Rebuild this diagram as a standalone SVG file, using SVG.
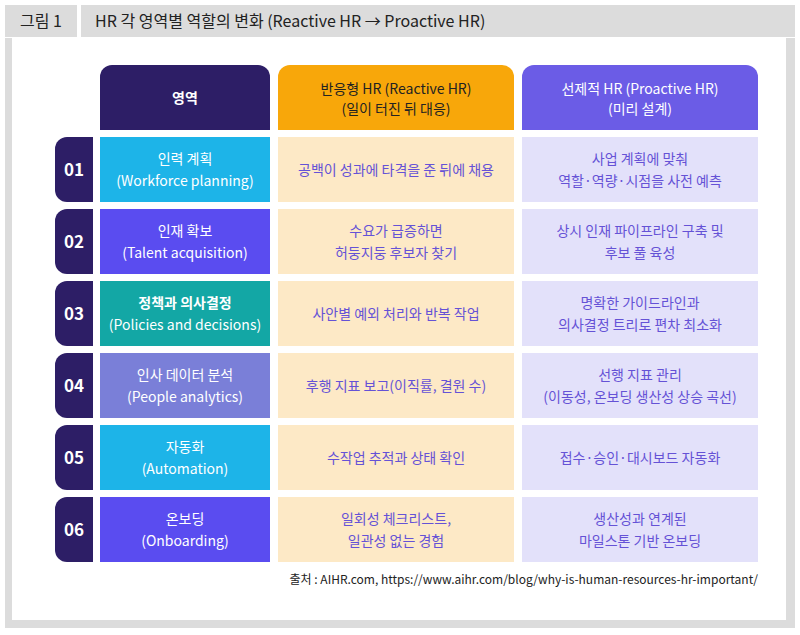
<svg xmlns="http://www.w3.org/2000/svg" width="800" height="635" viewBox="0 0 800 635">
<style>
text{font-family:"Noto Sans CJK KR","Noto Sans",sans-serif;text-anchor:middle}
.w{fill:#fff;font-size:14px}
.h{fill:#fff;font-size:14px;font-weight:bold}
.c{fill:#6552d6;font-size:14px}
.n{fill:#fff;font-size:17px;font-weight:bold}
.tab{fill:#2d1e66}
.r{fill:#fde9c6}
.p{fill:#e3e1fa}
</style>
<rect x="0" y="0" width="800" height="635" fill="#fff"/>
<rect x="5" y="38" width="790" height="590" fill="#dcdcdc"/>
<rect x="12" y="38" width="774" height="582" fill="#fff"/>
<rect x="5" y="5" width="72" height="32" fill="#dcdcdc"/>
<rect x="81" y="5" width="714" height="32" fill="#dcdcdc"/>
<text x="41" y="27" style="text-anchor:middle;font-size:16px;fill:#222">그림 1</text>
<text x="95" y="27" style="text-anchor:start;font-size:16px;fill:#222">HR 각 영역별 역할의 변화 (Reactive HR → Proactive HR)</text>
<g id="header">
<path d="M100 130V77a12 12 0 0 1 12-12h146a12 12 0 0 1 12 12v53z" fill="#2d1e66"/>
<text class="h" x="185" y="103">영역</text>
<path d="M278 130V77a12 12 0 0 1 12-12h212a12 12 0 0 1 12 12v53z" fill="#f8a70a"/>
<text x="396" y="94" style="fill:#222;font-size:14px">반응형 HR (Reactive HR)</text>
<text x="396" y="114" style="fill:#222;font-size:14px">(일이 터진 뒤 대응)</text>
<path d="M522 130V77a12 12 0 0 1 12-12h212a12 12 0 0 1 12 12v53z" fill="#6b5ce6"/>
<text class="w" x="640" y="94">선제적 HR (Proactive HR)</text>
<text class="w" x="640" y="114">(미리 설계)</text>
</g>
<g id="row1">
<path class="tab" d="M93 137v65H67a12 12 0 0 1-12-12V149a12 12 0 0 1 12-12z"/><text class="n" x="74" y="176">01</text>
<rect x="100" y="137" width="170" height="65" fill="#1db4e8"/>
<text class="w" x="185" y="164">인력 계획</text><text class="w" x="185" y="186">(Workforce planning)</text>
<rect class="r" x="278" y="137" width="236" height="65"/><text class="c" x="396" y="175">공백이 성과에 타격을 준 뒤에 채용</text>
<rect class="p" x="522" y="137" width="236" height="65"/><text class="c" x="640" y="164">사업 계획에 맞춰</text><text class="c" x="640" y="186">역할·역량·시점을 사전 예측</text>
</g>
<g id="row2">
<path class="tab" d="M93 209v65H67a12 12 0 0 1-12-12V221a12 12 0 0 1 12-12z"/><text class="n" x="74" y="248">02</text>
<rect x="100" y="209" width="170" height="65" fill="#5a4cf0"/>
<text class="w" x="185" y="236">인재 확보</text><text class="w" x="185" y="258">(Talent acquisition)</text>
<rect class="r" x="278" y="209" width="236" height="65"/><text class="c" x="396" y="236">수요가 급증하면</text><text class="c" x="396" y="258">허둥지둥 후보자 찾기</text>
<rect class="p" x="522" y="209" width="236" height="65"/><text class="c" x="640" y="236">상시 인재 파이프라인 구축 및</text><text class="c" x="640" y="258">후보 풀 육성</text>
</g>
<g id="row3">
<path class="tab" d="M93 281v65H67a12 12 0 0 1-12-12V293a12 12 0 0 1 12-12z"/><text class="n" x="74" y="320">03</text>
<rect x="100" y="281" width="170" height="65" fill="#13a7a5"/>
<text class="h" x="185" y="308">정책과 의사결정</text><text class="w" x="185" y="330">(Policies and decisions)</text>
<rect class="r" x="278" y="281" width="236" height="65"/><text class="c" x="396" y="319">사안별 예외 처리와 반복 작업</text>
<rect class="p" x="522" y="281" width="236" height="65"/><text class="c" x="640" y="308">명확한 가이드라인과</text><text class="c" x="640" y="330">의사결정 트리로 편차 최소화</text>
</g>
<g id="row4">
<path class="tab" d="M93 353v65H67a12 12 0 0 1-12-12V365a12 12 0 0 1 12-12z"/><text class="n" x="74" y="392">04</text>
<rect x="100" y="353" width="170" height="65" fill="#7a7fd8"/>
<text class="w" x="185" y="380">인사 데이터 분석</text><text class="w" x="185" y="402">(People analytics)</text>
<rect class="r" x="278" y="353" width="236" height="65"/><text class="c" x="396" y="391">후행 지표 보고(이직률, 결원 수)</text>
<rect class="p" x="522" y="353" width="236" height="65"/><text class="c" x="640" y="380">선행 지표 관리</text><text class="c" x="640" y="402">(이동성, 온보딩 생산성 상승 곡선)</text>
</g>
<g id="row5">
<path class="tab" d="M93 425v65H67a12 12 0 0 1-12-12V437a12 12 0 0 1 12-12z"/><text class="n" x="74" y="464">05</text>
<rect x="100" y="425" width="170" height="65" fill="#1db4e8"/>
<text class="w" x="185" y="452">자동화</text><text class="w" x="185" y="474">(Automation)</text>
<rect class="r" x="278" y="425" width="236" height="65"/><text class="c" x="396" y="463">수작업 추적과 상태 확인</text>
<rect class="p" x="522" y="425" width="236" height="65"/><text class="c" x="640" y="463">접수·승인·대시보드 자동화</text>
</g>
<g id="row6">
<path class="tab" d="M93 497v65H67a12 12 0 0 1-12-12V509a12 12 0 0 1 12-12z"/><text class="n" x="74" y="536">06</text>
<rect x="100" y="497" width="170" height="65" fill="#5a4cf0"/>
<text class="w" x="185" y="524">온보딩</text><text class="w" x="185" y="546">(Onboarding)</text>
<rect class="r" x="278" y="497" width="236" height="65"/><text class="c" x="396" y="524">일회성 체크리스트,</text><text class="c" x="396" y="546">일관성 없는 경험</text>
<rect class="p" x="522" y="497" width="236" height="65"/><text class="c" x="640" y="524">생산성과 연계된</text><text class="c" x="640" y="546">마일스톤 기반 온보딩</text>
</g>
<g id="connectors"/>
<text x="758" y="584" style="text-anchor:end;font-size:12px;fill:#222">출처 : AIHR.com, https://www.aihr.com/blog/why-is-human-resources-hr-important/</text>
</svg>
